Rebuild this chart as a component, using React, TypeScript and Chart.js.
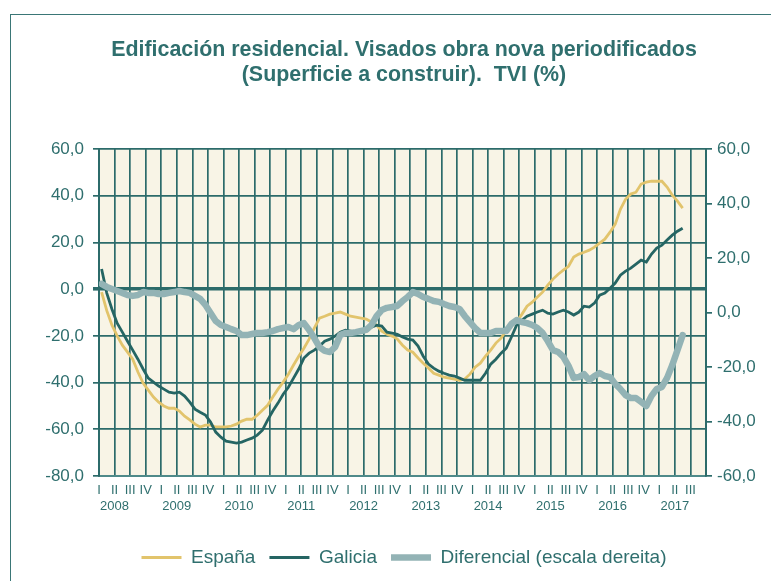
import React, { useEffect, useRef } from 'react';
import { Chart, registerables } from 'chart.js';

Chart.register(...registerables);

// ---- Data (monthly, Jan 2008 .. May 2017) ----
const YEARS = ['2008', '2009', '2010', '2011', '2012', '2013', '2014', '2015', '2016', '2017'];
const QUARTERS = ['I', 'II', 'III', 'IV'];
const SERIES_NAMES = ['España', 'Galicia', 'Diferencial (escala dereita)'];

const ESPANA = [
  -1.3, -9.2, -15.4, -20, -24, -27, -30, -35.5, -40.2, -43.2,
  -46.2, -48.4, -50, -51, -51, -52.2, -54.4, -56, -57.8, -59,
  -58.2, -58.2, -59, -59, -59, -58.6, -57.8, -56.5, -55.7, -55.7,
  -54, -51.8, -49.7, -46.2, -42.8, -39.8, -36.4, -32.5, -28.7, -25.3,
  -21.4, -16.7, -12.4, -11.6, -10.7, -10.3, -9.8, -10.7, -11.6, -12,
  -12.4, -12.8, -14.1, -15.4, -18, -19.3, -20.1, -21.4, -24, -26.1,
  -27, -29.5, -31.7, -33.8, -36, -36.8, -37.7, -38.1, -38.5, -39,
  -38.5, -36.4, -33.4, -31.7, -28.7, -26.1, -23.1, -21, -17.6, -15.8,
  -13.9, -10.8, -7.3, -5.6, -3.4, -1.3, 1.7, 4.3, 6.4, 8.1,
  9.8, 13.7, 15, 15.8, 16.7, 18, 19.7, 21.4, 24.4, 27.8,
  34.2, 38.5, 40.7, 41.5, 45, 45.8, 46.2, 46.2, 46.2, 43.7,
  40.2, 37.7, 34.7,
];

const GALICIA = [
  8.6, -1.7, -8.6, -14.6, -18.4, -22.3, -26.1, -30, -34.2, -38.1,
  -39.8, -41.5, -42.8, -44.1, -44.5, -44.1, -45.8, -48.4, -51.4, -52.7,
  -53.9, -56.9, -61.2, -63.4, -65.1, -65.5, -65.9, -65.5, -64.6, -63.8,
  -62.5, -60.4, -56.1, -52.2, -48.8, -45, -42, -38.1, -34.2, -29.5,
  -27.4, -26.1, -24.4, -22.3, -21.4, -20.1, -18.4, -17.6, -18, -18.4,
  -18.4, -18, -16.3, -15.4, -15.8, -18.4, -18.8, -19.3, -20.5, -21.4,
  -21.8, -24.4, -28.7, -32.1, -33.8, -35.1, -36, -36.8, -37.2, -38.1,
  -39, -39, -39, -39, -36, -32.1, -30, -27.4, -25.3, -20.5,
  -15.4, -13.3, -11.6, -10.7, -9.8, -9, -10.3, -10.7, -9.8, -9,
  -9.8, -11.1, -9.8, -7.3, -7.7, -6, -2.6, -1.7, 0.4, 2.6,
  6, 7.7, 9, 10.7, 12.4, 11.6, 15, 17.6, 18.8, 21,
  23.1, 24.8, 26.1,
];

const DIFERENCIAL = [
  10.5, 9.4, 8.6, 7.9, 7.2, 6.4, 6.1, 6.4, 7.5, 7.2,
  7.2, 6.8, 6.8, 7.2, 7.5, 7.9, 7.5, 7.2, 6.1, 5,
  2.8, -0.2, -3.1, -4.6, -5.3, -6.1, -6.8, -8.3, -8.3, -7.9,
  -7.5, -7.5, -7.2, -6.8, -6.1, -5.7, -5.3, -6.1, -4.6, -3.9,
  -6.4, -9.4, -12.7, -14.1, -14.5, -12.7, -8.3, -7.5, -7.5, -7.2,
  -6.8, -6.4, -4.6, -1.3, 0.9, 1.7, 2, 2.4, 4.2, 5.7,
  7.5, 6.8, 5.7, 5, 4.2, 3.9, 3.1, 2.4, 2, 1.3,
  -1.3, -3.5, -5.7, -7.5, -7.5, -7.5, -6.8, -6.8, -6.8, -4.2,
  -2.8, -3.5, -3.9, -4.6, -5.7, -7.5, -10.5, -13.8, -14.5, -16.3,
  -19.6, -24, -23.7, -22.6, -24.8, -23.3, -22.2, -23.3, -23.7, -26.2,
  -28.1, -30.3, -31.4, -31.4, -32.8, -34.3, -30.6, -28.1, -27.3, -24,
  -19.3, -13.8, -8.3,
];

// ---- Styles ----
const FONT = "'Liberation Sans', Arial, sans-serif";
const TEAL = '#2C6B6A';
const TEXT = '#2F6F6E';
const FRAME = '#3A7676';
const PLOT_BG = '#F8F4E6';
const ESP_COLOR = '#E2C46C';
const GAL_COLOR = '#256563';
const DIF_COLOR = '#93B3B5';

const MONTHS_PER_Q = 3;
const TOTAL_MONTHS = YEARS.length * 12 - 3; // axis ends after 2017 Q3

const fmt = (v: number) => Number(v).toFixed(1).replace('.', ',');

export default function App() {
  const ref = useRef<HTMLCanvasElement | null>(null);

  useEffect(() => {
    if (!ref.current) return;
    const toPoints = (arr: number[]) => arr.map((v, i) => ({ x: i + 0.5, y: v }));

    const plotBg = {
      id: 'plotBg',
      beforeDraw(chart: any) {
        const { ctx, chartArea: a } = chart;
        ctx.save();
        ctx.fillStyle = PLOT_BG;
        ctx.fillRect(a.left, a.top, a.right - a.left, a.bottom - a.top);
        ctx.restore();
      },
    };

    const chart = new Chart(ref.current, {
      type: 'line',
      data: {
        datasets: [
          {
            label: SERIES_NAMES[0],
            data: toPoints(ESPANA),
            borderColor: ESP_COLOR,
            backgroundColor: ESP_COLOR,
            borderWidth: 2.8,
            pointRadius: 0,
            tension: 0,
            yAxisID: 'y',
            order: 2,
          },
          {
            label: SERIES_NAMES[1],
            data: toPoints(GALICIA),
            borderColor: GAL_COLOR,
            backgroundColor: GAL_COLOR,
            borderWidth: 2.8,
            pointRadius: 0,
            tension: 0,
            yAxisID: 'y',
            order: 1,
          },
          {
            label: SERIES_NAMES[2],
            data: toPoints(DIFERENCIAL),
            borderColor: DIF_COLOR,
            backgroundColor: DIF_COLOR,
            borderWidth: 6.5,
            borderCapStyle: 'round',
            borderJoinStyle: 'round',
            pointRadius: 0,
            tension: 0,
            yAxisID: 'y2',
            order: 0,
          },
        ] as any,
      },
      options: {
        responsive: false,
        animation: false,
        devicePixelRatio: 1,
        layout: { padding: { top: 149, left: 37, right: 0, bottom: 4 } },
        plugins: {
          title: { display: false },
          tooltip: { enabled: false },
          legend: {
            position: 'bottom',
            labels: {
              usePointStyle: true,
              pointStyle: 'line',
              pointStyleWidth: 40,
              padding: 14,
              color: TEXT,
              font: { family: FONT, size: 19 },
              sort: (a: any, b: any) => a.datasetIndex - b.datasetIndex,
            },
          },
        },
        scales: {
          x: {
            type: 'linear',
            min: 0,
            max: TOTAL_MONTHS,
            afterFit: (s: any) => { s.height = 58; },
            grid: { color: TEAL, lineWidth: 1.7, drawTicks: false },
            border: { display: true, color: '#4F8A8A', width: 2 },
            ticks: {
              stepSize: MONTHS_PER_Q,
              autoSkip: false,
              maxRotation: 0,
              padding: 7,
              color: TEXT,
              font: { family: FONT, size: 13 },
              callback: (value: any) => {
                const q = Math.round(Number(value) / MONTHS_PER_Q);
                if (q >= TOTAL_MONTHS / MONTHS_PER_Q) return '';
                const qi = q % 4;
                const yi = Math.floor(q / 4);
                return qi === 1 ? [QUARTERS[qi], YEARS[yi]] : QUARTERS[qi];
              },
            },
          },
          y: {
            position: 'left',
            min: -80,
            max: 60,
            afterFit: (s: any) => { s.width = 62; },
            grid: {
              color: TEAL,
              lineWidth: (c: any) => (c.tick && c.tick.value === 0 ? 3.6 : 1.7),
              tickLength: 6,
            },
            border: { display: true, color: TEAL, width: 2 },
            ticks: {
              stepSize: 20,
              padding: 9,
              color: TEXT,
              font: { family: FONT, size: 17 },
              callback: (v: any) => fmt(v),
            },
          },
          y2: {
            position: 'right',
            min: -60,
            max: 60,
            afterFit: (s: any) => { s.width = 65; },
            grid: { drawOnChartArea: false, color: TEAL, lineWidth: 1.7, tickLength: 6 },
            border: { display: true, color: TEAL, width: 2 },
            ticks: {
              stepSize: 20,
              padding: 5,
              color: TEXT,
              font: { family: FONT, size: 17 },
              callback: (v: any) => fmt(v),
            },
          },
        },
      } as any,
      plugins: [plotBg],
    });
    return () => chart.destroy();
  }, []);

  return (
    <div style={{ position: 'fixed', left: 0, top: 0, width: 771, height: 581, overflow: 'hidden', background: '#fff' }}>
      <div
        style={{
          position: 'absolute', left: 10, top: 14, width: 900, height: 700,
          borderTop: `1.5px solid ${FRAME}`, borderLeft: `1.5px solid ${FRAME}`,
        }}
      />
      <canvas ref={ref} width={771} height={581} style={{ position: 'absolute', left: 0, top: 0, width: 771, height: 581 }} />
      <div
        style={{
          position: 'absolute', left: 37, top: 37, width: 734, textAlign: 'center',
          fontFamily: FONT, fontWeight: 'bold', fontSize: 21.4, lineHeight: '25px',
          color: TEXT, whiteSpace: 'pre',
        }}
      >
        {'Edificación residencial. Visados obra nova periodificados\n(Superficie a construir).  TVI (%)'}
      </div>
    </div>
  );
}
